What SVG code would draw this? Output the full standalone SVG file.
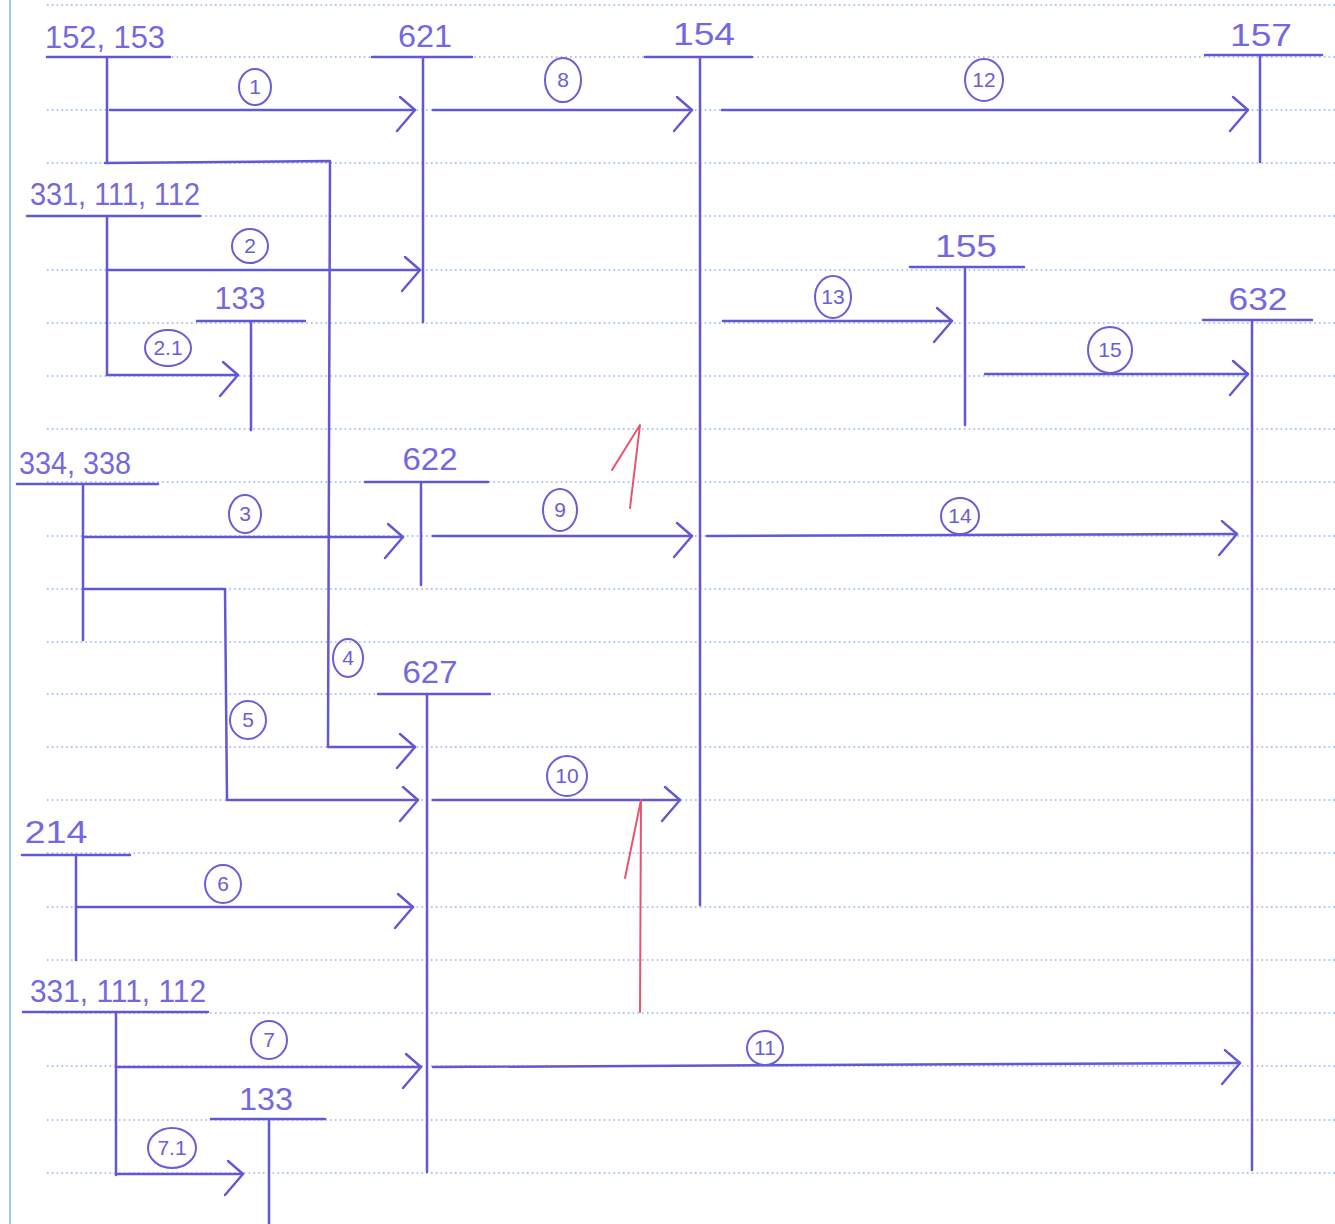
<svg xmlns="http://www.w3.org/2000/svg" width="1335" height="1224" viewBox="0 0 1335 1224">
<style>
.rule{stroke:#8fb3ee;stroke-width:1.6;stroke-dasharray:1.6 3.2;fill:none}
.ink{stroke:#6257d4;stroke-width:2.5;fill:none;stroke-linecap:round;stroke-linejoin:round}
.lbl{font-family:"Liberation Sans",Arial,sans-serif;font-size:31px;fill:#7468e0;text-anchor:middle}
.num{font-family:"Liberation Sans",Arial,sans-serif;font-size:21px;fill:#6a5ed6;text-anchor:middle}
.circ{stroke:#6a5ed6;stroke-width:2;fill:none}
.red{stroke:#e5566e;stroke-width:2;fill:none;stroke-linecap:round;stroke-linejoin:round}
</style>
<defs>
<marker id="chev" markerUnits="userSpaceOnUse" markerWidth="40" markerHeight="50" refX="30" refY="25" orient="auto" overflow="visible">
<path d="M15 12 L30 25 L12 46" fill="none" stroke="#6257d4" stroke-width="2.4" stroke-linecap="round" stroke-linejoin="round"/>
</marker>
</defs>
<rect width="1335" height="1224" fill="#ffffff"/>
<g id="paper">
<line x1="10" y1="0" x2="10" y2="1224" stroke="#a9c6f0" stroke-width="2"/>
<path class="rule" d="M47 5H1335M47 57H1335M47 110H1335M47 163H1335M47 216H1335M47 270H1335M47 323H1335M47 376H1335M47 429H1335M47 482H1335M47 536H1335M47 589H1335M47 642H1335M47 694H1335M47 747H1335M47 800H1335M47 853H1335M47 907H1335M47 960H1335M47 1013H1335M47 1066H1335M47 1120H1335M47 1173H1335"/>
</g>
<g id="connectors">
<path class="ink" d="M110 110H415" marker-end="url(#chev)"/>
<path class="ink" d="M107 270H420" marker-end="url(#chev)"/>
<path class="ink" d="M107 375H238" marker-end="url(#chev)"/>
<path class="ink" d="M83 537H403" marker-end="url(#chev)"/>
<path class="ink" d="M105 163L330 161L328 747H415" marker-end="url(#chev)"/>
<path class="ink" d="M83 589H225L227 800H418" marker-end="url(#chev)"/>
<path class="ink" d="M76 907H413" marker-end="url(#chev)"/>
<path class="ink" d="M116 1067H421" marker-end="url(#chev)"/>
<path class="ink" d="M116 1174H243" marker-end="url(#chev)"/>
<path class="ink" d="M433 110H692" marker-end="url(#chev)"/>
<path class="ink" d="M433 536H692" marker-end="url(#chev)"/>
<path class="ink" d="M433 800H680" marker-end="url(#chev)"/>
<path class="ink" d="M433 1067L1240 1063" marker-end="url(#chev)"/>
<path class="ink" d="M722 110H1248" marker-end="url(#chev)"/>
<path class="ink" d="M723 321H952" marker-end="url(#chev)"/>
<path class="ink" d="M707 536L1237 534" marker-end="url(#chev)"/>
<path class="ink" d="M985 374H1248" marker-end="url(#chev)"/>
<g id="labels">
<ellipse class="circ" cx="255" cy="87" rx="16" ry="18"/><text class="num" x="255" y="94">1</text>
<ellipse class="circ" cx="250" cy="246" rx="18" ry="17"/><text class="num" x="250" y="253">2</text>
<ellipse class="circ" cx="168" cy="348" rx="23" ry="18"/><text class="num" x="168" y="355">2.1</text>
<ellipse class="circ" cx="245" cy="514" rx="16" ry="19"/><text class="num" x="245" y="521">3</text>
<ellipse class="circ" cx="348" cy="658" rx="15" ry="19"/><text class="num" x="348" y="665">4</text>
<ellipse class="circ" cx="248" cy="720" rx="18" ry="19"/><text class="num" x="248" y="727">5</text>
<ellipse class="circ" cx="223" cy="884" rx="18" ry="19"/><text class="num" x="223" y="891">6</text>
<ellipse class="circ" cx="269" cy="1040" rx="18" ry="19"/><text class="num" x="269" y="1047">7</text>
<ellipse class="circ" cx="172" cy="1148" rx="24" ry="20"/><text class="num" x="172" y="1155">7.1</text>
<ellipse class="circ" cx="563" cy="80" rx="18" ry="22"/><text class="num" x="563" y="87">8</text>
<ellipse class="circ" cx="560" cy="510" rx="17" ry="21"/><text class="num" x="560" y="517">9</text>
<ellipse class="circ" cx="567" cy="776" rx="20" ry="20"/><text class="num" x="567" y="783">10</text>
<ellipse class="circ" cx="765" cy="1048" rx="18" ry="17"/><text class="num" x="765" y="1055">11</text>
<ellipse class="circ" cx="984" cy="80" rx="19" ry="21"/><text class="num" x="984" y="87">12</text>
<ellipse class="circ" cx="833" cy="297" rx="18" ry="21"/><text class="num" x="833" y="304">13</text>
<ellipse class="circ" cx="960" cy="516" rx="19" ry="18"/><text class="num" x="960" y="523">14</text>
<ellipse class="circ" cx="1110" cy="350" rx="22" ry="23"/><text class="num" x="1110" y="357">15</text>
</g>
</g>
<g id="n152_153"><text class="lbl" x="105" y="48" textLength="120" lengthAdjust="spacingAndGlyphs">152, 153</text><path class="ink" d="M47 57H170M107 57V163"/></g>
<g id="n621"><text class="lbl" x="425" y="47" textLength="54" lengthAdjust="spacingAndGlyphs">621</text><path class="ink" d="M372 57H472M423 57V322"/></g>
<g id="n154"><text class="lbl" x="704" y="45" textLength="62" lengthAdjust="spacingAndGlyphs">154</text><path class="ink" d="M645 57H752M700 57V905"/></g>
<g id="n157"><text class="lbl" x="1261" y="46" textLength="62" lengthAdjust="spacingAndGlyphs">157</text><path class="ink" d="M1205 55H1322M1260 55V162"/></g>
<g id="n331_111_112_a"><text class="lbl" x="115" y="205" textLength="170" lengthAdjust="spacingAndGlyphs">331, 111, 112</text><path class="ink" d="M27 216H200M107 216V375"/></g>
<g id="n133_a"><text class="lbl" x="240" y="309" textLength="51" lengthAdjust="spacingAndGlyphs">133</text><path class="ink" d="M197 321H305M251 321V430"/></g>
<g id="n155"><text class="lbl" x="966" y="257" textLength="62" lengthAdjust="spacingAndGlyphs">155</text><path class="ink" d="M910 267H1024M965 267V425"/></g>
<g id="n632"><text class="lbl" x="1258" y="310" textLength="59" lengthAdjust="spacingAndGlyphs">632</text><path class="ink" d="M1203 320H1312M1252 320V1170"/></g>
<g id="n334_338"><text class="lbl" x="75" y="474" textLength="112" lengthAdjust="spacingAndGlyphs">334, 338</text><path class="ink" d="M17 484H158M83 484V640"/></g>
<g id="n622"><text class="lbl" x="430" y="470" textLength="55" lengthAdjust="spacingAndGlyphs">622</text><path class="ink" d="M365 482H488M421 482V585"/></g>
<g id="n627"><text class="lbl" x="430" y="683" textLength="55" lengthAdjust="spacingAndGlyphs">627</text><path class="ink" d="M378 694H490M427 694V1172"/></g>
<g id="n214"><text class="lbl" x="56" y="843" textLength="63" lengthAdjust="spacingAndGlyphs">214</text><path class="ink" d="M22 855H130M76 855V960"/></g>
<g id="n331_111_112_b"><text class="lbl" x="118" y="1002" textLength="176" lengthAdjust="spacingAndGlyphs">331, 111, 112</text><path class="ink" d="M23 1012H208M116 1012V1175"/></g>
<g id="n133_b"><text class="lbl" x="266" y="1110" textLength="54" lengthAdjust="spacingAndGlyphs">133</text><path class="ink" d="M211 1119H325M269 1119V1224"/></g>
<g id="annotations">
<path class="red" d="M612 470L640 425L630 508"/>
<path class="red" d="M625 878L641 800L640 1012"/>
</g>
</svg>
